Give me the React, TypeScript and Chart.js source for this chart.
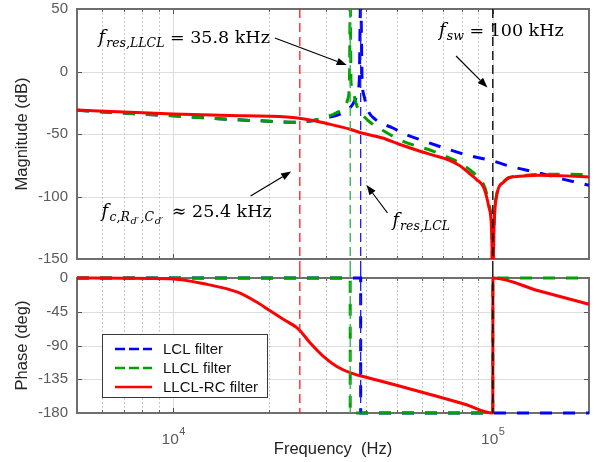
import React, { useEffect, useRef } from 'react';
import { Chart, registerables } from 'chart.js';
Chart.register(...registerables);

// ---------- axes ----------
const freqMin = 5000;
const freqMax = 200000;
const majorFreqs = [10000, 100000];
const minorFreqs = [6000, 7000, 8000, 9000, 20000, 30000, 40000, 50000, 60000, 70000, 80000, 90000];
const magTicks = [50, 0, -50, -100, -150];
const phaseTicks = [0, -45, -90, -135, -180];

const seriesNames = ['LCL filter', 'LLCL filter', 'LLCL-RC filter'];

// ---------- magnitude (dB) ----------
const lclMagFreq = [5000, 7000, 10000, 15000, 20000, 24000, 27000, 30000, 33000, 35000, 36500, 37500, 38200, 38600, 39000, 39600, 40500, 43000, 48500, 53500, 60000, 73000, 85000, 100000, 112000, 139000, 168000, 200000];
const lclMag = [-31, -33.3, -35.4, -38.3, -39.8, -40.6, -39.6, -37, -34.5, -31, -26, -20, -8, 60, -6, -20, -30, -38.5, -45, -50.5, -55, -62.5, -67.5, -71.5, -75.5, -81, -86.5, -91];

const llclMagFreq = [5000, 7000, 10000, 15000, 20000, 24000, 27000, 30000, 32400, 34400, 35200, 35600, 35800, 36000, 36500, 37200, 38000, 39500, 41500, 45200, 52000, 64600, 73000, 80000, 86000, 91000, 94500, 97200, 99200, 100000, 100800, 102700, 108200, 112000, 125000, 140000, 170000, 200000];
const llclMag = [-31, -33.3, -35.4, -38.3, -39.8, -40.6, -39.5, -36.5, -33, -28.5, -22, -8, 60, -8, -16, -24, -31, -36, -41, -47, -55.5, -63.5, -69, -74, -80, -86, -93, -106, -126, -170, -126, -99, -88, -85, -83.3, -82.4, -82.2, -82.6];

const rcMagFreq = [5000, 7000, 10000, 15000, 20000, 24500, 27400, 30000, 35800, 38600, 45200, 51000, 58000, 64600, 72900, 79000, 84200, 89000, 93800, 97200, 99200, 100000, 100800, 102700, 108200, 112000, 125000, 139000, 168000, 200000];
const rcMag = [-30.8, -32.4, -34, -35.2, -35.8, -37.2, -39.2, -41.4, -46.2, -49, -53.2, -58.2, -63, -66.7, -70.8, -75.5, -81.2, -86.5, -93.2, -108.4, -128, -175, -128, -100.4, -88.4, -85.2, -83.6, -82.9, -83.5, -84.4];

// ---------- phase (deg) ----------
const lclPhFreq = [5000, 38600, 38600, 200000];
const lclPh = [0, 0, -180, -180];

const llclPhFreq = [5000, 35800, 35800, 100000, 100000, 200000];
const llclPh = [0, 0, -180, -180, 0, 0];

const rcPhFreq = [5000, 7000, 9800, 12500, 15900, 18300, 20100, 22100, 24700, 26800, 29500, 32500, 36100, 41200, 51000, 64600, 82200, 100000, 100100, 139000, 200000];
const rcPh = [0, -0.4, -1, -7.7, -18.9, -32.4, -43.7, -54.9, -68.4, -86.4, -104.4, -117.9, -126.8, -133.6, -144, -156, -168.6, -180, 0, -17, -35];

// ---------- marker lines (Hz) ----------
const markerFreqs = [24900, 35800, 38600, 100000];
const markerColors = ['#ff1a1a', '#2fb04a', '#1a1aff', '#000000'];

// ---------- annotations (Hz, dB) ----------
type Run = [string, 'i' | 's' | 'ss' | 'r', number];
const noteRuns: Run[][] = [
  [['f', 'i', 1], ['res,LLCL', 's', 0], [' = 35.8 kHz', 'r', 0]],
  [['f', 'i', 1], ['sw', 's', 0], [' = 100 kHz', 'r', 0]],
  [['f', 'i', 1.5], ['c,R', 's', 0.5], ['d\u2032', 'ss', 1.5], [',C', 's', 0.5], ['d\u2032', 'ss', 3], [' \u2248 25.4 kHz', 'r', 0]],
  [['f', 'i', 1], ['res,LCL', 's', 0]],
];
const noteAnchor = [[5840, 22.8], [67900, 28.8], [5960, -116.4], [48530, -123.6]];
const arrowFrom = [[20800, 26.8], [76740, 12.4], [17460, -99.6], [46830, -113.2]];
const arrowTo = [[34900, 5.2], [96200, -12.8], [23390, -80], [40270, -90.8]];

const BLUE = '#0000ff';
const GREEN = '#00a000';
const RED = '#ff0000';
const SANS = '"Liberation Sans", Arial, sans-serif';
const SERIF = '"DejaVu Serif", serif';

const toPts = (xs: number[], ys: number[]) => xs.map((x, i) => ({ x, y: ys[i] }));

const runFont: Record<string, string> = {
  i: `italic 18px ${SERIF}`,
  s: `italic 12.5px ${SERIF}`,
  ss: `italic 10px ${SERIF}`,
  r: `17.5px ${SERIF}`,
};
const runDy: Record<string, number> = { i: 0, s: 4, ss: 7, r: 0 };

function line(ctx: CanvasRenderingContext2D, x1: number, y1: number, x2: number, y2: number) {
  ctx.beginPath();
  ctx.moveTo(x1, y1);
  ctx.lineTo(x2, y2);
  ctx.stroke();
}

function drawGridFrame(chart: any, yTicks: number[]) {
  const { ctx, chartArea: a } = chart;
  const xs = chart.scales.x;
  const ys = chart.scales.y;
  ctx.save();
  ctx.lineWidth = 1;
  ctx.setLineDash([]);
  ctx.strokeStyle = '#dedede';
  for (const v of yTicks) {
    const py = Math.round(ys.getPixelForValue(v)) + 0.5;
    if (py <= a.top + 2 || py >= a.bottom - 2) continue;
    line(ctx, a.left, py, a.right, py);
  }
  for (const f of majorFreqs) {
    const px = Math.round(xs.getPixelForValue(f)) + 0.5;
    line(ctx, px, a.top, px, a.bottom);
  }
  ctx.strokeStyle = '#bababa';
  ctx.setLineDash([1.5, 2.5]);
  for (const f of minorFreqs) {
    const px = Math.round(xs.getPixelForValue(f)) + 0.5;
    line(ctx, px, a.top, px, a.bottom);
  }
  ctx.setLineDash([]);
  ctx.strokeStyle = '#555';
  for (const f of [...majorFreqs, ...minorFreqs]) {
    const len = majorFreqs.includes(f) ? 5 : 3;
    const px = Math.round(xs.getPixelForValue(f)) + 0.5;
    line(ctx, px, a.bottom, px, a.bottom - len);
    line(ctx, px, a.top, px, a.top + len);
  }
  for (const v of yTicks) {
    const py = Math.round(ys.getPixelForValue(v)) + 0.5;
    line(ctx, a.left, py, a.left + 5, py);
    line(ctx, a.right, py, a.right - 5, py);
  }
  ctx.strokeStyle = '#6e6e6e';
  ctx.lineWidth = 2;
  ctx.strokeRect(a.left, a.top, a.right - a.left, a.bottom - a.top);
  ctx.restore();
}

function drawMarkers(chart: any, y0: number, y1: number) {
  const { ctx } = chart;
  const xs = chart.scales.x;
  ctx.save();
  ctx.lineWidth = 1.3;
  ctx.setLineDash([9, 5]);
  markerFreqs.forEach((f, i) => {
    const px = xs.getPixelForValue(f);
    ctx.strokeStyle = markerColors[i];
    line(ctx, px, y0, px, y1);
  });
  ctx.restore();
}

function drawArrow(ctx: CanvasRenderingContext2D, x1: number, y1: number, x2: number, y2: number) {
  const ang = Math.atan2(y2 - y1, x2 - x1);
  const hl = 10;
  const hw = 3.8;
  const bx = x2 - hl * Math.cos(ang);
  const by = y2 - hl * Math.sin(ang);
  ctx.lineWidth = 1.2;
  line(ctx, x1, y1, bx, by);
  ctx.beginPath();
  ctx.moveTo(x2, y2);
  ctx.lineTo(bx + hw * Math.sin(ang), by - hw * Math.cos(ang));
  ctx.lineTo(bx - hw * Math.sin(ang), by + hw * Math.cos(ang));
  ctx.closePath();
  ctx.fill();
}

const magPlugin = {
  id: 'magDeco',
  beforeDatasetsDraw(chart: any) {
    drawGridFrame(chart, magTicks);
  },
  afterDatasetsDraw(chart: any) {
    const { ctx, chartArea: a } = chart;
    const xs = chart.scales.x;
    const ys = chart.scales.y;
    drawMarkers(chart, a.top, chart.height);
    ctx.save();
    ctx.fillStyle = '#000';
    ctx.strokeStyle = '#000';
    ctx.textBaseline = 'alphabetic';
    ctx.textAlign = 'left';
    noteRuns.forEach((runs, i) => {
      let x = xs.getPixelForValue(noteAnchor[i][0]);
      const y = ys.getPixelForValue(noteAnchor[i][1]);
      for (const [txt, kind, gap] of runs) {
        ctx.font = runFont[kind];
        ctx.fillText(txt, x, y + runDy[kind]);
        x += ctx.measureText(txt).width + gap;
      }
      drawArrow(
        ctx,
        xs.getPixelForValue(arrowFrom[i][0]),
        ys.getPixelForValue(arrowFrom[i][1]),
        xs.getPixelForValue(arrowTo[i][0]),
        ys.getPixelForValue(arrowTo[i][1])
      );
    });
    ctx.restore();
  },
};

const legendStyles = [
  { color: BLUE, dash: [10, 4] },
  { color: GREEN, dash: [10, 4] },
  { color: RED, dash: [] as number[] },
];

const phasePlugin = {
  id: 'phaseDeco',
  beforeDatasetsDraw(chart: any) {
    drawGridFrame(chart, phaseTicks);
  },
  afterDatasetsDraw(chart: any) {
    const { ctx, chartArea: a } = chart;
    drawMarkers(chart, 0, a.bottom);
    ctx.save();
    const bx = a.left + 25;
    const by = a.top + 56;
    const bw = 165;
    const bh = 63;
    ctx.fillStyle = '#fff';
    ctx.fillRect(bx, by, bw, bh);
    ctx.strokeStyle = '#3a3a3a';
    ctx.lineWidth = 1;
    ctx.strokeRect(bx + 0.5, by + 0.5, bw, bh);
    seriesNames.forEach((name, i) => {
      const ry = by + 15 + i * 19;
      ctx.strokeStyle = legendStyles[i].color;
      ctx.lineWidth = 2.5;
      ctx.setLineDash(legendStyles[i].dash);
      line(ctx, bx + 13, ry, bx + 50, ry);
      ctx.setLineDash([]);
      ctx.fillStyle = '#111';
      ctx.font = `15px ${SANS}`;
      ctx.textBaseline = 'middle';
      ctx.textAlign = 'left';
      ctx.fillText(name, bx + 61, ry + 1);
    });
    ctx.restore();
  },
  afterDraw(chart: any) {
    const { ctx, chartArea: a } = chart;
    const xs = chart.scales.x;
    ctx.save();
    ctx.textBaseline = 'alphabetic';
    ctx.textAlign = 'left';
    ctx.fillStyle = '#5a5a5a';
    for (const f of majorFreqs) {
      const px = xs.getPixelForValue(f);
      const base = '10';
      const exp = String(Math.round(Math.log10(f)));
      ctx.font = `15.5px ${SANS}`;
      const w1 = ctx.measureText(base).width;
      ctx.font = `11px ${SANS}`;
      const w2 = ctx.measureText(exp).width;
      const x0 = px - (w1 + w2) / 2;
      ctx.font = `15.5px ${SANS}`;
      ctx.fillText(base, x0, a.bottom + 30.5);
      ctx.font = `11px ${SANS}`;
      ctx.fillText(exp, x0 + w1 + 0.5, a.bottom + 22);
    }
    ctx.fillStyle = '#222';
    ctx.font = `16.5px ${SANS}`;
    ctx.textAlign = 'center';
    ctx.fillText('Frequency  (Hz)', (a.left + a.right) / 2, a.bottom + 40.5);
    ctx.restore();
  },
};

function yAxis(min: number, max: number, step: number, title: string) {
  return {
    type: 'linear' as const,
    min,
    max,
    ticks: {
      stepSize: step,
      padding: 9,
      color: '#5a5a5a',
      font: { family: SANS, size: 15 },
    },
    grid: { display: false, drawTicks: false },
    border: { display: false },
    title: {
      display: true,
      text: title,
      color: '#262626',
      font: { family: SANS, size: 16.5 },
      padding: { top: 13, bottom: 0 },
    },
    afterFit: (s: any) => {
      s.width = 77;
      s.paddingTop = 0;
      s.paddingBottom = 0;
      s.paddingLeft = 0;
      s.paddingRight = 0;
    },
  };
}

const xAxis = { type: 'logarithmic' as const, min: freqMin, max: freqMax, display: false };

export default function App() {
  const magRef = useRef<HTMLCanvasElement>(null);
  const phRef = useRef<HTMLCanvasElement>(null);

  useEffect(() => {
    const common = {
      pointRadius: 0,
      borderWidth: 3,
      fill: false,
    };
    const mag = new Chart(magRef.current!, {
      type: 'line',
      data: {
        datasets: [
          { ...common, label: seriesNames[0], data: toPts(lclMagFreq, lclMag), borderColor: BLUE, borderDash: [12, 11], cubicInterpolationMode: 'monotone', order: 3, clip: 0 },
          { ...common, label: seriesNames[1], data: toPts(llclMagFreq, llclMag), borderColor: GREEN, borderDash: [12, 11], cubicInterpolationMode: 'monotone', order: 2, clip: 0 },
          { ...common, label: seriesNames[2], data: toPts(rcMagFreq, rcMag), borderColor: RED, cubicInterpolationMode: 'monotone', order: 1, clip: 0 },
        ] as any,
      },
      options: {
        animation: false,
        responsive: false,
        devicePixelRatio: 1,
        events: [],
        layout: { padding: { left: 0, right: 9, top: 9, bottom: 9 } },
        plugins: { legend: { display: false }, tooltip: { enabled: false } },
        scales: { x: xAxis, y: yAxis(-150, 50, 50, 'Magnitude (dB)') } as any,
      },
      plugins: [magPlugin],
    });
    const ph = new Chart(phRef.current!, {
      type: 'line',
      data: {
        datasets: [
          { ...common, label: seriesNames[0], data: toPts(lclPhFreq, lclPh), borderColor: BLUE, borderDash: [12, 11], tension: 0, order: 3, clip: 2 },
          { ...common, label: seriesNames[1], data: toPts(llclPhFreq, llclPh), borderColor: GREEN, borderDash: [12, 11], tension: 0, order: 2, clip: 2 },
          { ...common, label: seriesNames[2], data: toPts(rcPhFreq, rcPh), borderColor: RED, cubicInterpolationMode: 'monotone', order: 1, clip: 2 },
        ] as any,
      },
      options: {
        animation: false,
        responsive: false,
        devicePixelRatio: 1,
        events: [],
        layout: { padding: { left: 0, right: 9, top: 10, bottom: 49 } },
        plugins: { legend: { display: false }, tooltip: { enabled: false } },
        scales: { x: xAxis, y: yAxis(-180, 0, 45, 'Phase (deg)') } as any,
      },
      plugins: [phasePlugin],
    });
    return () => {
      mag.destroy();
      ph.destroy();
    };
  }, []);

  return (
    <div style={{ position: 'fixed', left: 0, top: 0, width: 598, height: 462, background: '#fff' }}>
      <canvas ref={magRef} width={598} height={268} style={{ position: 'absolute', left: 0, top: 0, display: 'block' }} />
      <canvas ref={phRef} width={598} height={194} style={{ position: 'absolute', left: 0, top: 268, display: 'block' }} />
    </div>
  );
}
